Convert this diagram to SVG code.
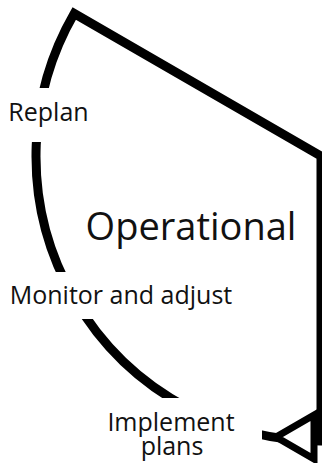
<svg xmlns="http://www.w3.org/2000/svg" width="322" height="463" viewBox="0 0 322 463">
<style>
.sector{fill:none;stroke:#000;stroke-width:9;stroke-linejoin:miter;stroke-miterlimit:10}
.bg{fill:#fff;stroke:none}
.lbl{font-family:"Open Sans","Noto Sans",sans-serif;font-size:25px;fill:#111;text-anchor:middle}
.title{font-family:"Open Sans","Noto Sans",sans-serif;font-size:38px;fill:#111;text-anchor:middle}
.head{fill:#fff;stroke:#000;stroke-width:7;stroke-linejoin:miter;stroke-miterlimit:10}
</style>
<rect width="322" height="463" fill="#fff"/>
<g id="connectors">
<path class="sector" d="M321 441 L321 156 L74.2 13.5 A285 285 0 0 0 321 441 Z"/>
</g>
<g id="sector-operational">
<text class="title" x="191" y="240">Operational</text>
</g>
<g id="replan">
<rect class="bg" x="0" y="88" width="96" height="54"/>
<text class="lbl" x="48.5" y="121">Replan</text>
</g>
<g id="monitor-and-adjust">
<rect class="bg" x="0" y="272" width="242" height="47"/>
<text class="lbl" x="121" y="304">Monitor and adjust</text>
</g>
<g id="implement-plans">
<rect class="bg" x="100" y="398" width="162" height="65"/>
<text class="lbl" x="171" y="431">Implement</text>
<text class="lbl" x="172" y="455">plans</text>
</g>
<g id="arrowhead">
<polygon class="head" points="276,437 314,415 314,459"/>
</g>
</svg>
